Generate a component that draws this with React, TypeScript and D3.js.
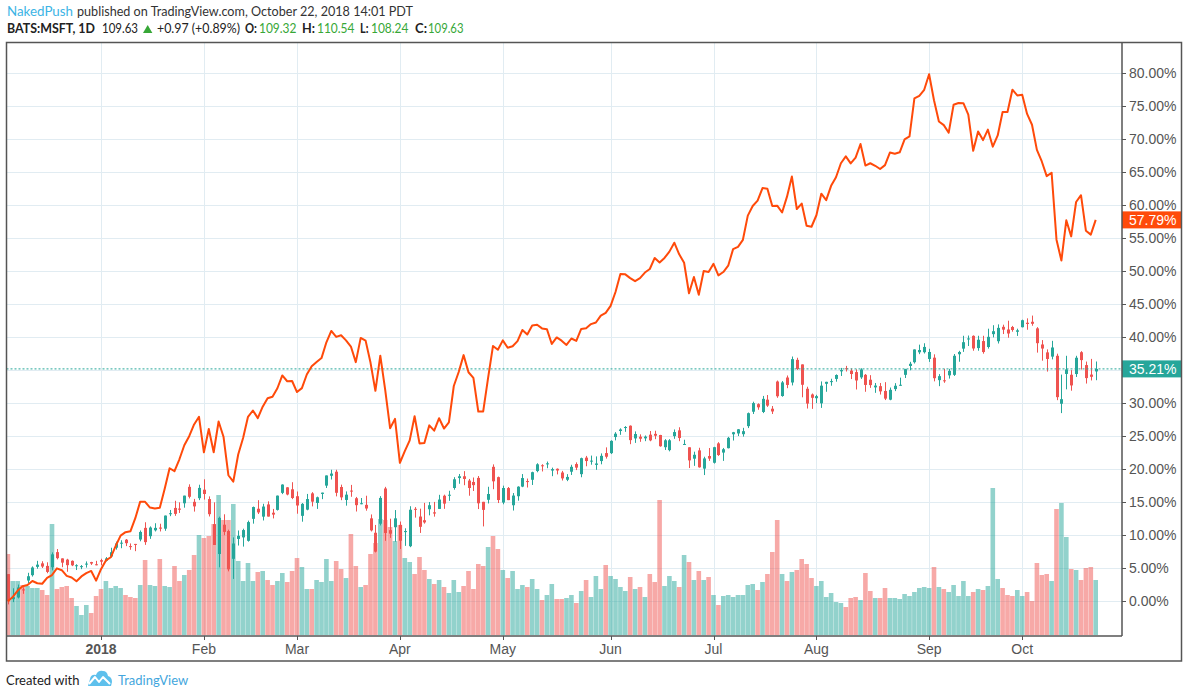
import React from 'react'
import * as d3 from 'd3'

// BATS:MSFT daily bars, Dec 4 2017 .. Oct 22 2018 (prices in USD)
const FIRST_DAY = '2017-12-04'
const LAST_DAY = '2018-10-22'
const HOLIDAYS = ['2017-12-25', '2018-01-01', '2018-01-15', '2018-02-19', '2018-03-30', '2018-05-28', '2018-07-04', '2018-09-03']

const opens = [
  84.42, 81.34, 81.55, 82.54, 83.63, 84.29, 85.31, 85.74, 85.43, 85.26, 87.12, 86.35, 86.2, 86.05, 85.4, 85.31, 85.65, 85.9, 85.63,
  86.13, 86.06, 86.59, 87.66, 88.2, 88.65, 87.86, 88.13, 88.67, 90.1, 89.08, 89.8, 90.14, 90.0, 91.85, 92.55, 92.47, 93.12, 95.14, 93.3, 93.75,
  94.79, 93.64, 90.56, 86.89, 90.49, 89.71, 86.3, 88.74, 88.93, 88.51, 91.21, 92.45, 91.48, 92.98, 91.96, 92.31, 94.4, 95.08, 94.84,
  93.99, 91.58, 92.34, 94.34, 93.16, 94.27, 95.29, 96.5, 97.0, 95.12, 93.53, 94.68, 93.74, 93.05, 92.93, 91.27, 89.5, 90.61, 94.94, 89.82, 90.18,
  90.47, 89.58, 87.85, 92.44, 91.49, 91.04, 92.39, 92.01, 92.43, 94.05, 94.07, 95.0, 96.22, 96.44, 95.91, 95.74, 96.24, 93.3, 93.55, 97.6, 96.33,
  93.21, 94.99, 92.88, 93.99, 95.17, 95.85, 96.01, 97.08, 97.79, 97.9, 97.14, 97.36, 96.9, 96.01, 97.0, 97.94, 96.7, 98.73, 98.3, 97.84, 98.31, 99.29,
  99.28, 101.26, 102.0, 102.48, 102.65, 101.09, 101.3, 101.1, 101.55, 101.65, 101.51, 100.01, 99.65, 101.37, 102.08, 100.3, 100.0, 98.6, 99.62, 97.38, 98.93,
  98.1, 100.48, 99.35, 99.89, 101.6, 101.7, 101.61, 102.6, 104.37, 105.3, 104.34, 105.85, 104.74, 108.08, 106.3, 108.57, 107.96, 110.74, 110.18, 107.19, 106.49,
  106.03, 105.4, 107.8, 108.12, 108.4, 109.33, 109.71, 109.42, 109.24, 108.59, 108.9, 108.3, 107.36, 107.51, 106.92, 105.85, 107.15, 107.67, 108.9, 109.99, 110.45, 111.67, 111.68,
  110.85, 111.01, 108.25, 108.23, 108.84, 108.9, 111.43, 112.12, 113.36, 113.69, 112.19, 113.05, 112.32, 113.9, 113.03, 114.8, 114.47, 114.78, 114.19,
  114.75, 115.3, 115.42, 114.61, 112.63, 111.66, 111.14, 111.24, 105.35, 109.01, 108.91, 109.0, 111.68, 110.1, 108.93, 109.32,
]

const highs = [
  84.43, 82.68, 83.14, 82.8, 84.58, 85.37, 86.05, 86.0, 85.87, 87.09, 87.5, 86.35, 86.3, 86.1, 85.63, 85.53, 85.98, 85.93, 86.05,
  86.31, 86.51, 87.66, 88.41, 88.58, 88.73, 88.19, 88.13, 89.78, 90.79, 90.28, 90.67, 90.61, 91.62, 92.3, 93.43, 93.24, 94.06, 95.45, 93.66, 95.4,
  96.07, 93.97, 93.24, 91.48, 91.77, 89.88, 88.93, 89.78, 90.0, 90.99, 92.72, 93.5, 93.06, 93.36, 92.43, 94.07, 95.45, 95.1, 95.71,
  94.57, 93.15, 94.27, 94.49, 93.94, 94.43, 96.54, 97.24, 97.24, 95.41, 94.58, 95.38, 93.9, 93.77, 94.05, 91.75, 90.46, 94.0, 95.14, 91.23, 92.29,
  90.88, 90.05, 92.76, 92.65, 92.46, 93.17, 93.28, 93.29, 94.16, 94.18, 94.66, 96.33, 96.72, 97.07, 96.11, 96.29, 96.47, 93.3, 95.15, 97.9, 96.4,
  95.29, 95.12, 94.38, 95.21, 96.71, 96.16, 97.0, 98.04, 97.92, 98.25, 97.5, 97.4, 97.1, 96.7, 97.85, 98.15, 98.73, 98.94, 98.98, 98.88, 99.25, 99.99,
  100.86, 101.86, 102.33, 102.6, 102.69, 101.95, 101.59, 101.45, 102.0, 102.03, 101.53, 101.0, 101.0, 102.19, 102.46, 100.93, 100.0, 99.46, 99.94, 98.84, 99.91,
  100.06, 100.63, 99.92, 101.28, 101.89, 102.24, 102.39, 104.27, 105.6, 105.4, 106.31, 106.42, 105.07, 108.2, 108.14, 108.82, 111.15, 111.0, 110.18, 107.44, 106.61,
  106.45, 108.09, 108.05, 108.42, 108.96, 109.75, 110.0, 109.69, 109.58, 109.71, 109.0, 108.86, 107.9, 107.9, 108.0, 107.34, 107.88, 108.56, 109.64, 110.5, 112.03, 112.61, 112.78,
  112.1, 111.42, 108.99, 109.64, 109.64, 111.46, 111.85, 113.7, 113.73, 113.75, 113.7, 113.7, 114.57, 115.0, 115.1, 115.06, 115.55, 114.91, 114.57,
  115.68, 115.84, 116.18, 114.76, 113.17, 112.03, 113.08, 111.5, 108.93, 111.24, 109.48, 111.24, 111.81, 110.53, 110.86, 110.54,
]

const lows = [
  80.7, 80.98, 81.43, 82.0, 83.33, 84.12, 85.08, 85.17, 84.53, 84.88, 86.23, 85.27, 84.71, 85.4, 84.92, 85.03, 85.22, 85.55, 85.5,
  85.5, 85.97, 86.57, 87.43, 87.6, 87.86, 87.41, 87.24, 88.45, 88.01, 88.75, 89.66, 89.66, 89.74, 91.54, 91.58, 91.93, 92.58, 93.72, 92.1, 93.51,
  93.58, 91.5, 88.0, 85.25, 89.2, 84.76, 83.83, 87.93, 87.8, 88.41, 90.62, 91.8, 91.01, 91.49, 91.26, 92.23, 94.25, 94.1, 93.63,
  91.84, 90.86, 92.26, 92.74, 92.43, 93.63, 95.0, 96.04, 93.97, 93.5, 92.83, 93.92, 92.11, 93.0, 92.21, 89.66, 87.08, 90.4, 88.51, 88.87, 88.4,
  87.51, 87.89, 87.73, 91.36, 89.48, 90.62, 91.64, 91.48, 92.43, 92.44, 93.42, 94.79, 95.52, 95.34, 94.05, 94.63, 92.41, 90.28, 93.1, 94.85, 93.15,
  93.0, 93.51, 92.23, 93.44, 95.1, 95.06, 95.37, 96.93, 97.03, 97.43, 96.45, 96.67, 95.92, 95.84, 96.6, 97.2, 96.32, 97.67, 97.86, 97.23, 97.91, 98.61,
  99.17, 100.85, 101.53, 101.9, 100.38, 100.54, 100.67, 100.75, 100.74, 101.0, 100.07, 99.67, 99.5, 101.04, 100.75, 100.3, 97.45, 97.72, 97.5, 96.59, 98.33,
  98.0, 98.94, 98.33, 99.86, 100.83, 101.38, 101.31, 102.36, 104.09, 104.61, 104.2, 104.96, 104.09, 106.08, 106.21, 107.26, 107.6, 109.5, 106.14, 104.76, 104.72,
  105.42, 104.84, 106.82, 107.56, 108.06, 108.76, 109.31, 108.38, 107.1, 108.4, 106.82, 107.3, 106.69, 106.48, 105.8, 105.78, 106.9, 107.56, 108.51, 109.46, 110.29, 111.44, 111.52,
  110.49, 108.1, 107.51, 107.92, 108.44, 108.76, 110.51, 111.72, 112.44, 111.86, 111.86, 111.5, 112.12, 113.5, 112.75, 113.91, 113.46, 114.2, 113.68,
  114.73, 114.44, 114.93, 111.63, 110.64, 109.3, 110.8, 105.79, 104.2, 107.12, 106.95, 108.64, 109.55, 107.83, 108.21, 108.24,
]

const closes = [
  81.08, 81.59, 82.78, 82.49, 84.16, 85.23, 85.58, 85.35, 84.69, 86.85, 86.38, 85.83, 85.52, 85.5, 85.51, 85.4, 85.71, 85.72, 85.54,
  85.95, 86.35, 87.11, 88.19, 88.28, 88.22, 87.82, 88.08, 89.6, 88.35, 90.14, 90.1, 90.0, 91.61, 91.9, 91.82, 92.33, 94.06, 93.92, 92.74, 95.01,
  94.26, 91.78, 88.0, 91.33, 89.61, 85.01, 88.18, 89.13, 89.83, 90.81, 92.66, 92.0, 92.72, 91.49, 91.73, 94.06, 95.42, 94.2, 93.77,
  92.85, 93.05, 93.64, 93.32, 93.86, 94.43, 96.54, 96.77, 94.41, 93.85, 94.18, 94.6, 92.89, 93.13, 92.48, 89.79, 87.18, 93.78, 89.47, 89.39, 91.27,
  88.52, 89.71, 92.33, 92.38, 90.23, 90.77, 92.88, 91.86, 93.58, 93.08, 94.17, 96.07, 96.44, 96.11, 95.0, 95.35, 93.12, 92.31, 94.26, 95.82, 93.52,
  95.0, 93.51, 94.07, 95.16, 96.22, 95.81, 96.94, 97.91, 97.7, 98.03, 97.32, 97.15, 96.18, 96.36, 97.6, 97.5, 98.66, 98.31, 98.36, 98.01, 98.95, 98.84,
  100.79, 101.67, 102.19, 102.49, 100.88, 101.63, 101.05, 101.31, 100.85, 101.42, 100.13, 100.86, 100.86, 101.87, 101.14, 100.41, 98.39, 99.08, 97.54, 98.63, 98.61,
  100.01, 99.05, 99.76, 101.16, 101.85, 102.21, 101.98, 104.19, 105.43, 104.91, 105.95, 105.12, 104.4, 106.27, 107.97, 107.66, 110.83, 109.62, 107.68, 105.37, 106.08,
  106.28, 107.57, 108.04, 108.13, 108.88, 109.49, 109.67, 109.0, 108.21, 109.56, 107.66, 107.64, 107.58, 106.87, 105.98, 107.06, 107.56, 107.68, 109.6, 110.26, 112.02, 111.95, 112.33,
  111.71, 108.49, 108.74, 108.21, 109.38, 111.24, 111.71, 112.91, 113.37, 112.14, 113.21, 111.7, 113.57, 114.26, 114.67, 114.45, 113.98, 114.41, 114.37,
  115.61, 115.15, 115.17, 112.79, 112.13, 110.85, 112.26, 106.16, 105.91, 109.57, 107.6, 111.0, 110.71, 108.5, 108.66, 109.63,
]

// compared symbol, % change from Dec 4 2017
const comparePct = [
  0, 0.67, 1.62, 2.28, 2.47, 3.08, 2.74, 2.66, 3.55, 3.98, 4.99, 4.71, 3.85, 3.6, 3.03, 3.77, 4.26, 4.6, 3.13,
  4.86, 6.19, 6.67, 8.39, 9.96, 10.47, 10.61, 12.59, 15.1, 15.07, 14.2, 14.05, 14.16, 17.05, 20.16, 19.72, 21.52, 23.64, 25.02, 26.8, 27.95,
  22.58, 26.1, 22.58, 27.24, 24.94, 19.1, 18.13, 22.25, 24.74, 27.96, 28.91, 27.75, 29.49, 30.77, 30.99, 32.28, 34.22, 33.34, 33.38,
  31.7, 32.3, 34.36, 35.6, 36.25, 36.85, 39.24, 40.96, 40.06, 40.3, 39.54, 38.6, 36.24, 39.91, 39.5, 36.17, 31.89, 37.21, 32.02, 26.23, 27.64,
  20.99, 22.76, 24.39, 28.03, 23.92, 24.0, 26.66, 25.85, 27.74, 26.18, 27.12, 32.62, 34.74, 37.3, 34.7, 33.85, 28.76, 28.77, 33.86, 38.69, 38.11,
  39.53, 38.42, 38.64, 39.42, 41.11, 40.43, 41.8, 41.9, 41.35, 41.23, 38.99, 39.98, 39.49, 38.84, 39.82, 39.46, 41.26, 41.37, 42.0, 42.24, 43.29, 43.71,
  44.76, 46.86, 49.6, 49.54, 48.97, 48.51, 48.96, 49.81, 50.35, 52.02, 51.33, 52.02, 52.98, 54.33, 52.58, 51.3, 46.67, 49.13, 46.44, 50.05, 49.9,
  51.13, 49.38, 49.89, 50.85, 53.36, 53.71, 54.77, 58.44, 59.89, 60.72, 62.61, 62.52, 59.88, 59.95, 58.91, 61.31, 64.35, 59.44, 60.26, 56.9, 56.75,
  58.49, 61.76, 60.79, 62.95, 64.25, 66.37, 67.42, 66.35, 67.22, 69.29, 66.02, 66.37, 65.99, 65.5, 66.09, 67.99, 67.81, 68.03, 70.0, 70.45, 76.21, 76.59, 77.5,
  79.86, 75.92, 72.7, 72.15, 71.0, 75.24, 75.49, 75.48, 73.74, 68.26, 71.17, 69.88, 71.46, 68.88, 70.58, 74.13, 74.15, 77.52, 76.64,
  76.76, 73.84, 72.21, 68.39, 66.64, 64.42, 64.94, 54.79, 51.62, 57.73, 55.29, 60.5, 61.53, 56.15, 55.56, 57.79,
]

// volume (millions, BATS)
const volumes = [
  8.1, 5.4, 5.4, 5.0, 4.9, 4.7, 4.7, 4.5, 4.0, 11.1, 4.6, 4.8, 4.9, 3.7, 2.9, 2.0, 3.0, 2.2, 3.9,
  4.6, 5.4, 4.7, 4.9, 4.7, 4.0, 3.8, 3.7, 5.0, 7.5, 5.0, 4.9, 7.6, 4.9, 4.8, 6.9, 5.4, 6.0, 6.5, 8.0, 10.0,
  9.7, 9.9, 11.1, 14.0, 11.5, 11.5, 13.1, 7.4, 5.4, 7.2, 5.4, 6.3, 6.4, 5.5, 5.0, 5.4, 6.2, 5.3, 6.4,
  7.7, 6.8, 4.6, 4.6, 5.5, 5.3, 7.6, 5.4, 7.4, 6.6, 5.7, 10.1, 6.9, 4.8, 5.0, 8.1, 9.2, 11.6, 11.5, 10.8, 9.4,
  11.0, 7.7, 7.3, 6.1, 7.8, 6.5, 5.6, 5.1, 5.5, 4.8, 4.2, 5.5, 4.3, 4.9, 6.4, 4.6, 7.1, 6.9, 8.8, 9.9, 8.6,
  6.5, 5.7, 6.4, 4.6, 5.0, 4.8, 5.6, 4.6, 3.5, 4.0, 5.1, 3.6, 3.6, 3.7, 4.0, 3.2, 4.4, 5.5, 3.8, 5.9, 4.6, 7.0,
  5.9, 5.6, 4.8, 4.4, 5.8, 4.6, 4.8, 3.8, 6.1, 5.3, 13.5, 4.9, 5.9, 5.4, 4.8, 8.0, 7.3, 5.5, 6.4, 5.5, 5.8,
  4.0, 3.0, 3.9, 4.0, 3.8, 4.0, 4.0, 5.0, 5.1, 4.5, 5.3, 6.1, 8.3, 11.5, 6.1, 5.4, 6.3, 6.5, 7.6, 7.1, 5.7,
  4.9, 5.4, 3.8, 4.2, 3.3, 3.2, 2.8, 3.7, 3.8, 3.5, 6.2, 4.4, 3.7, 3.7, 4.7, 3.7, 3.7, 3.6, 4.1, 3.9, 4.3, 4.7, 4.8,
  4.7, 6.8, 4.8, 4.6, 4.3, 5.0, 3.9, 5.4, 3.9, 4.3, 4.6, 4.5, 4.9, 14.7, 5.6, 4.7, 4.0, 3.9, 4.5,
  3.9, 4.3, 3.4, 7.2, 6.0, 6.1, 5.4, 12.6, 13.2, 9.8, 6.6, 6.5, 5.5, 6.7, 6.8, 5.5,
]

const priceTicks = d3.range(0, 81, 5)

const UP = '#26a69a'
const DOWN = '#ef5350'
const COMPARE = '#ff4a0a'
const GRID = '#e1ecf2'
const AXIS = '#555'
const AXIS_FONT = '"Liberation Sans", Arial, sans-serif'
const HEAD_FONT = 'Lato, "Open Sans", sans-serif'

function buildDates(): Date[] {
  const out: Date[] = []
  const skip = new Set(HOLIDAYS)
  const end = new Date(LAST_DAY + 'T00:00:00Z')
  for (let d = new Date(FIRST_DAY + 'T00:00:00Z'); d <= end; d = new Date(d.getTime() + 86400000)) {
    const wd = d.getUTCDay()
    if (wd === 0 || wd === 6) continue
    if (skip.has(d.toISOString().slice(0, 10))) continue
    out.push(d)
  }
  return out
}

// header text piece stretched to the width it has in the original
const Piece: React.FC<{ x: number; w: number; y: number; fill?: string; bold?: boolean; children: string }> = ({
  x,
  w,
  y,
  fill = '#222',
  bold,
  children,
}) => (
  <text
    x={x}
    y={y}
    textLength={w}
    lengthAdjust="spacingAndGlyphs"
    fill={fill}
    fontWeight={bold ? 'bold' : 'normal'}
  >
    {children}
  </text>
)

const App: React.FC = () => {
  const width = 1188
  const height = 698
  const frame = { left: 6.5, top: 42.5, right: 1181.5, bottom: 661 }
  const plotRight = 1122
  const plotBottom = 636

  const dates = buildDates()
  const n = closes.length
  const base = closes[0]
  const pct = (p: number) => (p / base - 1) * 100

  const x = d3.scaleLinear().domain([0, n - 1]).range([7.9, 1095.7])
  const y = d3.scaleLinear().domain([0, 80]).range([601.3, 73.3])
  const v = d3.scaleLinear().domain([0, d3.max(volumes) || 1]).range([635, 488])
  const step = x(1) - x(0)

  const monthTicks = dates
    .map((d, i) => ({ d, i }))
    .filter(({ d, i }) => i > 0 && d.getUTCMonth() !== dates[i - 1].getUTCMonth())
    .map(({ d, i }) => ({
      i,
      label: d.getUTCMonth() === 0 ? String(d.getUTCFullYear()) : d3.utcFormat('%b')(d),
      bold: d.getUTCMonth() === 0,
    }))

  const line = d3
    .line<number>()
    .x((_, i) => x(i))
    .y((d) => y(d))

  const last = n - 1
  const lastPct = pct(closes[last])
  const lastCmp = comparePct[last]
  const change = closes[last] - closes[last - 1]
  const changePct = (change / closes[last - 1]) * 100
  const fmtPct = (d: number) => d3.format('.2f')(d) + '%'
  const green = '#37a737'

  return (
    <svg
      width={width}
      height={height}
      style={{ position: 'absolute', left: 0, top: 0, background: '#fff' }}
    >
      <defs>
        <clipPath id="plot">
          <rect x={frame.left} y={frame.top} width={plotRight - frame.left} height={plotBottom - frame.top} />
        </clipPath>
      </defs>

      {/* header */}
      <g fontFamily={HEAD_FONT} fontSize={13}>
        <Piece x={7} w={66} y={16} fill="#3cb4e5">NakedPush</Piece>
        <Piece x={77} w={336} y={16} fill="#333">published on TradingView.com, October 22, 2018 14:01 PDT</Piece>

        <Piece x={7} w={88} y={33} bold>BATS:MSFT, 1D</Piece>
        <Piece x={102} w={36} y={33}>{closes[last].toFixed(2)}</Piece>
        <path d="M143,33 L147.7,25 L152.4,33 Z" fill={green} />
        <Piece x={157} w={83} y={33}>{`+${change.toFixed(2)} (+${changePct.toFixed(2)}%)`}</Piece>
        <Piece x={245} w={12} y={33} bold>O:</Piece>
        <Piece x={259} w={37.5} y={33} fill={green}>{opens[last].toFixed(2)}</Piece>
        <Piece x={302} w={13} y={33} bold>H:</Piece>
        <Piece x={317} w={37.5} y={33} fill={green}>{highs[last].toFixed(2)}</Piece>
        <Piece x={360} w={8.5} y={33} bold>L:</Piece>
        <Piece x={371} w={37.5} y={33} fill={green}>{lows[last].toFixed(2)}</Piece>
        <Piece x={415} w={12} y={33} bold>C:</Piece>
        <Piece x={428} w={35.5} y={33} fill={green}>{closes[last].toFixed(2)}</Piece>
      </g>

      {/* grid */}
      <g stroke={GRID} strokeWidth={1}>
        {priceTicks.map((t) => (
          <line key={t} x1={frame.left} x2={plotRight} y1={Math.round(y(t)) + 0.5} y2={Math.round(y(t)) + 0.5} />
        ))}
        {monthTicks.map((t) => (
          <line key={t.i} x1={Math.round(x(t.i)) + 0.5} x2={Math.round(x(t.i)) + 0.5} y1={frame.top} y2={plotBottom} />
        ))}
      </g>

      <g clipPath="url(#plot)">
        {/* volume */}
        <g>
          {volumes.map((d, i) => (
            <rect
              key={i}
              x={x(i) - step / 2 + 0.15}
              y={v(d)}
              width={step - 0.3}
              height={v(0) - v(d)}
              fill={closes[i] >= opens[i] ? UP : DOWN}
              fillOpacity={0.5}
            />
          ))}
        </g>

        {/* candles */}
        <g>
          {closes.map((c, i) => {
            const o = opens[i]
            const col = c >= o ? UP : DOWN
            const cx = Math.round(x(i)) + 0.5
            const top = y(pct(Math.max(o, c)))
            const bot = y(pct(Math.min(o, c)))
            return (
              <g key={i}>
                <line x1={cx} x2={cx} y1={y(pct(highs[i]))} y2={y(pct(lows[i]))} stroke={col} strokeWidth={1} />
                <rect x={cx - 1.5} y={top} width={3} height={Math.max(1, bot - top)} fill={col} />
              </g>
            )
          })}
        </g>

        {/* last price line */}
        <line
          x1={frame.left}
          x2={plotRight}
          y1={y(lastPct)}
          y2={y(lastPct)}
          stroke={UP}
          strokeWidth={1}
          strokeDasharray="2,2"
        />

        {/* compared symbol */}
        <path d={line(comparePct) || ''} fill="none" stroke={COMPARE} strokeWidth={2} strokeLinejoin="round" />
      </g>

      {/* price axis */}
      <g fontFamily={AXIS_FONT} fontSize={14} fill={AXIS}>
        {priceTicks.map((t) => (
          <g key={t}>
            <line x1={plotRight} x2={plotRight + 4} y1={Math.round(y(t)) + 0.5} y2={Math.round(y(t)) + 0.5} stroke={AXIS} />
            <text x={1129} y={y(t) + 5}>{fmtPct(t)}</text>
          </g>
        ))}
      </g>

      {/* last value labels */}
      <g fontFamily={AXIS_FONT} fontSize={14} fill="#fff">
        <rect x={plotRight} y={y(lastCmp) - 8.5} width={frame.right - plotRight} height={17} fill={COMPARE} />
        <text x={1129} y={y(lastCmp) + 5}>{fmtPct(lastCmp)}</text>
        <rect x={plotRight} y={y(lastPct) - 8.5} width={frame.right - plotRight} height={17} fill={UP} />
        <text x={1129} y={y(lastPct) + 5}>{fmtPct(lastPct)}</text>
      </g>

      {/* time axis */}
      <g fontFamily={AXIS_FONT} fontSize={14} fill={AXIS} textAnchor="middle">
        {monthTicks.map((t) => (
          <g key={t.i}>
            <line x1={Math.round(x(t.i)) + 0.5} x2={Math.round(x(t.i)) + 0.5} y1={plotBottom} y2={plotBottom + 4} stroke={AXIS} />
            <text x={x(t.i)} y={654} fontWeight={t.bold ? 'bold' : 'normal'}>{t.label}</text>
          </g>
        ))}
      </g>

      {/* frame */}
      <g fill="none" stroke={AXIS} strokeWidth={1.5}>
        <rect x={frame.left} y={frame.top} width={frame.right - frame.left} height={frame.bottom - frame.top} />
        <line x1={frame.left} x2={plotRight} y1={plotBottom} y2={plotBottom} />
        <line x1={plotRight} x2={plotRight} y1={frame.top} y2={plotBottom} />
      </g>

      {/* footer */}
      <text x={6} y={685} fontFamily={HEAD_FONT} fontSize={13} fill="#222">Created with</text>
      <g>
        <path
          d="M88,686 L90,679 Q91,674 96,675 Q98,670 103,671 Q107,671 108,676 Q112,677 112,682 L111,686 Z"
          fill="#5ec0ec"
        />
        <path d="M89,684 L95,677 L99,682 L103,677 L110,684" fill="none" stroke="#fff" strokeWidth={2} strokeLinejoin="round" />
      </g>
      <text x={118} y={685} fontFamily={HEAD_FONT} fontSize={13} fill="#43a6dd">TradingView</text>
    </svg>
  )
}

export default App
